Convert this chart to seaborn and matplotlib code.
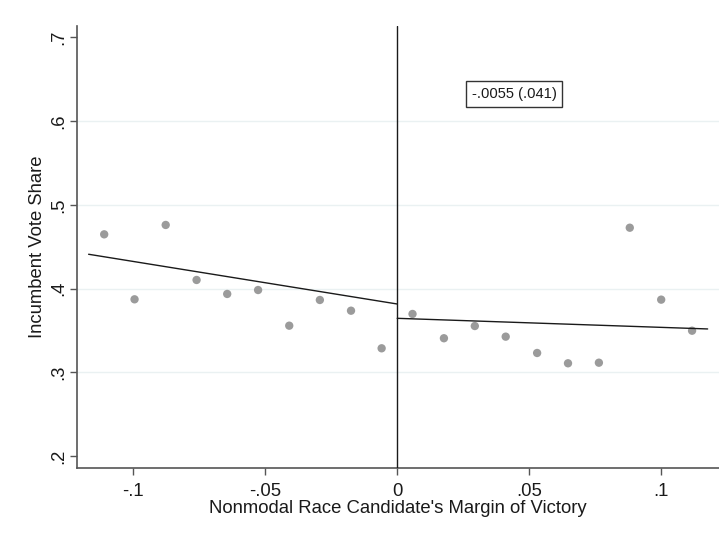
import matplotlib
matplotlib.use("Agg")
import matplotlib.pyplot as plt
import seaborn as sns
import pandas as pd

# Binned means (left / right of cutoff)
left_x = [-0.1110, -0.0995, -0.0877, -0.0760, -0.0644, -0.0527, -0.0409, -0.0293, -0.0175, -0.0059]
left_y = [0.4647, 0.3871, 0.4759, 0.4102, 0.3935, 0.3982, 0.3556, 0.3863, 0.3735, 0.3286]
right_x = [0.0058, 0.0177, 0.0294, 0.0411, 0.0530, 0.0647, 0.0764, 0.0881, 0.1000, 0.1117]
right_y = [0.3696, 0.3406, 0.3552, 0.3425, 0.3230, 0.3107, 0.3114, 0.4726, 0.3867, 0.3496]

# Linear fit endpoints
fit_left_x = [-0.1169, 0.0]
fit_left_y = [0.4409, 0.3815]
fit_right_x = [0.0, 0.1176]
fit_right_y = [0.3644, 0.3517]

x_ticks = [-0.1, -0.05, 0, 0.05, 0.1]
x_ticklabels = ["-.1", "-.05", "0", ".05", ".1"]
y_ticks = [0.2, 0.3, 0.4, 0.5, 0.6, 0.7]
y_ticklabels = [".2", ".3", ".4", ".5", ".6", ".7"]
annotation = "-.0055 (.041)"
x_label = "Nonmodal Race Candidate's Margin of Victory"
y_label = "Incumbent Vote Share"

sns.set_theme(style="white")
plt.rcParams["font.family"] = ["Liberation Sans", "DejaVu Sans"]

fig = plt.figure(figsize=(7.19, 5.40), dpi=100)
ax = fig.add_axes([77 / 719, (540 - 467.7) / 540, (719 - 77) / 719, (467.7 - 26) / 540])

pts = pd.DataFrame({"x": left_x + right_x, "y": left_y + right_y})
sns.scatterplot(data=pts, x="x", y="y", ax=ax, color="#9b9b9b", s=36,
                edgecolor="none", zorder=3)
fl = pd.DataFrame({"x": fit_left_x, "y": fit_left_y})
fr = pd.DataFrame({"x": fit_right_x, "y": fit_right_y})
sns.lineplot(data=fl, x="x", y="y", ax=ax, color="#1a1a1a", lw=1.0, zorder=4)
sns.lineplot(data=fr, x="x", y="y", ax=ax, color="#1a1a1a", lw=1.0, zorder=4)
ax.axvline(0, color="#1a1a1a", lw=1.0, zorder=4)

ax.set_xlim(-0.1213, 0.1219)
ax.set_ylim(0.186, 0.7135)

for g in [0.3, 0.4, 0.5, 0.6]:
    ax.axhline(g, color="#eaf1f2", lw=1.0, zorder=1)

ax.set_xticks(x_ticks)
ax.set_xticklabels(x_ticklabels)
ax.set_yticks(y_ticks)
ax.set_yticklabels(y_ticklabels, rotation=90, va="center")

ax.tick_params(axis="both", direction="out", length=5.3, width=1.0,
               color="#555555", labelsize=13.3, labelcolor="#1a1a1a",
               bottom=True, left=True)
ax.tick_params(axis="x", pad=6)
ax.tick_params(axis="y", pad=2)
for s in ["top", "right"]:
    ax.spines[s].set_visible(False)
for s in ["left", "bottom"]:
    ax.spines[s].set_color("#555555")
    ax.spines[s].set_linewidth(1.2)

ax.set_xlabel(x_label, fontsize=13.3, color="#1a1a1a", labelpad=0)
ax.set_ylabel(y_label, fontsize=13.3, color="#1a1a1a", labelpad=3)

ax.text(0.0443, 0.6327, annotation, fontsize=10.6, color="#1a1a1a",
        ha="center", va="center", zorder=5,
        bbox=dict(boxstyle="square,pad=0.4", fc="white", ec="#333333", lw=1.0))

fig.savefig("out.png", dpi=100)
